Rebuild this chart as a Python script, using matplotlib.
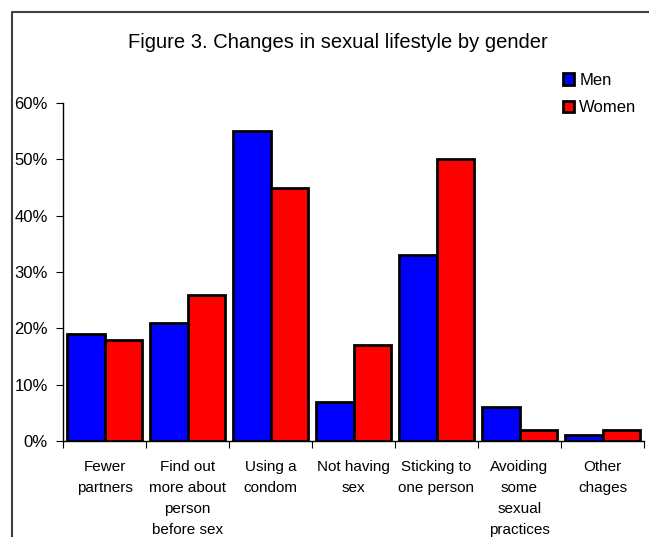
import numpy as np
import matplotlib.pyplot as plt
from matplotlib.lines import Line2D

plt.rcParams['font.family'] = ['Liberation Sans', 'DejaVu Sans']

categories = ['Fewer\npartners', 'Find out\nmore about\nperson\nbefore sex', 'Using a\ncondom',
              'Not having\nsex', 'Sticking to\none person', 'Avoiding\nsome\nsexual\npractices',
              'Other\nchages']
men = [19, 21, 55, 7, 33, 6, 1]
women = [18, 26, 45, 17, 50, 2, 2]
yticks = [0, 10, 20, 30, 40, 50, 60]

W, H = 649, 537
fig = plt.figure(figsize=(W / 100, H / 100), dpi=100)
ax = fig.add_axes([63 / W, 1 - 441 / H, (644 - 63) / W, (441 - 103) / H])

x = np.arange(len(categories))
bw = 0.455
ax.bar(x - bw / 2, men, bw, color='#0000ff', edgecolor='black', linewidth=2, label='Men')
ax.bar(x + bw / 2, women, bw, color='#ff0000', edgecolor='black', linewidth=2, label='Women')

ax.set_xlim(-0.5, len(categories) - 0.5)
ax.set_ylim(0, 60)
ax.set_yticks(yticks)
ax.set_yticklabels([f'{v}%' for v in yticks], fontsize=12)
ax.set_xticks(np.arange(len(categories) + 1) - 0.5)
ax.set_xticklabels([])
ax.set_xticks(x, minor=True)
ax.set_xticklabels(categories, minor=True, fontsize=11, linespacing=1.62, va='top')
ax.tick_params(axis='x', which='minor', length=0, pad=14)
ax.tick_params(axis='x', which='major', length=5, direction='out')
ax.tick_params(axis='y', length=5, pad=6)
for s in ['top', 'right']:
    ax.spines[s].set_visible(False)
for s in ['left', 'bottom']:
    ax.spines[s].set_linewidth(1)

fig.text(338 / W, 1 - 43 / H, 'Figure 3. Changes in sexual lifestyle by gender',
         ha='center', va='center', fontsize=14.5)

ax.legend(loc='upper left', bbox_to_anchor=(556 / W, 1 - 66 / H), bbox_transform=fig.transFigure,
          frameon=False, fontsize=12, handlelength=0.7, handleheight=0.7, handletextpad=0.3,
          labelspacing=0.75, borderaxespad=0)

fig.add_artist(Line2D([12 / W, 12 / W, 1], [0, 1 - 12 / H, 1 - 12 / H],
                      transform=fig.transFigure, color='#404040', linewidth=1.5))

fig.savefig('out.png', dpi=100)
